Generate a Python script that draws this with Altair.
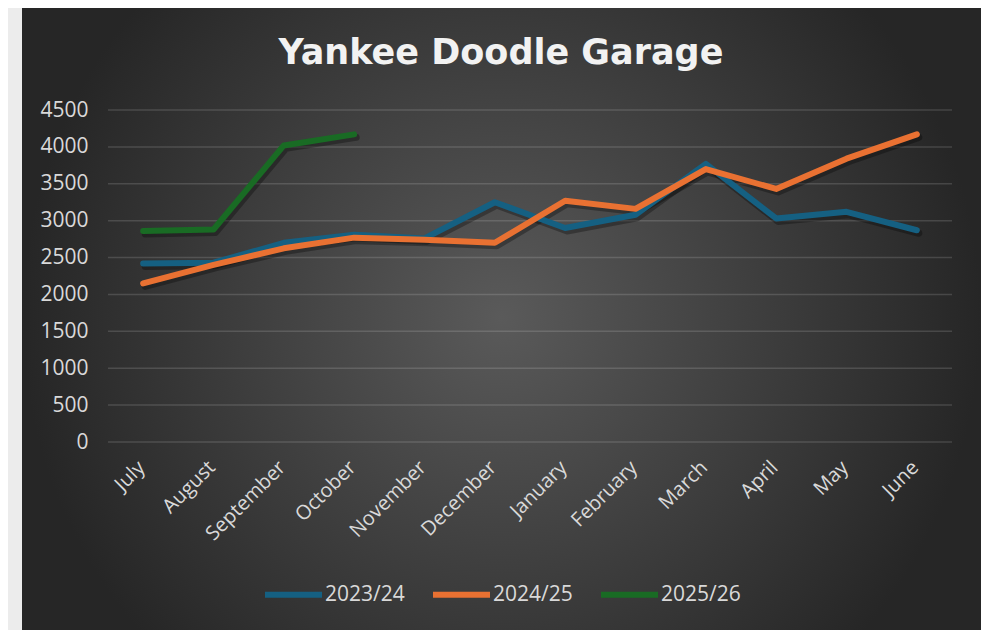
import altair as alt
import pandas as pd

months = ["July", "August", "September", "October", "November", "December",
          "January", "February", "March", "April", "May", "June"]
s2023 = [2420, 2430, 2700, 2810, 2760, 3250, 2900, 3080, 3770, 3030, 3120, 2870]
s2024 = [2150, 2400, 2625, 2770, 2740, 2700, 3270, 3160, 3700, 3430, 3840, 4170]
s2025 = [2860, 2880, 4020, 4170]
series_names = ["2023/24", "2024/25", "2025/26"]
series_colors = ["#156082", "#E97132", "#196B24"]
y_ticks = [0, 500, 1000, 1500, 2000, 2500, 3000, 3500, 4000, 4500]
title_text = "Yankee Doodle Garage"

rows = []
for name, vals in zip(series_names, [s2023, s2024, s2025]):
    for m, v in zip(months, vals):
        rows.append({"month": m, "value": v, "series": name})
df = pd.DataFrame(rows)
grid_df = pd.DataFrame({"value": y_ticks})

W, H = 844, 332

bg_grad = alt.Gradient(
    gradient="radial",
    stops=[alt.GradientStop(color="#5a5a5a", offset=0),
           alt.GradientStop(color="#262626", offset=1)],
    x1=0.5, y1=0.5, x2=0.5, y2=0.5, r1=0, r2=0.5,
)

bg = alt.Chart(pd.DataFrame({"k": [0]})).mark_rect(fill=bg_grad).encode(
    x=alt.value(-86), x2=alt.value(873), y=alt.value(-105), y2=alt.value(520)
)

xenc = alt.X("month:N", sort=months, title=None,
             axis=alt.Axis(labelAngle=-45, labelAlign="right", labelBaseline="top",
                           labelFontSize=20, labelColor="#d9d9d9", labelFont="Open Sans",
                           labelPadding=15, labelOffset=-9, ticks=False, domain=False,
                           grid=False, zindex=1))
yaxis = alt.Axis(values=y_ticks, format="d", labelFontSize=21, labelColor="#d9d9d9",
                 labelFont="Open Sans", labelPadding=20, ticks=False,
                 domain=False, grid=False, zindex=1)
yenc = alt.Y("value:Q", title=None,
             scale=alt.Scale(domain=[0, 4500], nice=False), axis=yaxis)

grid = alt.Chart(grid_df).mark_rule(color="#ffffff", opacity=0.14, strokeWidth=1.5).encode(
    y=yenc, x=alt.value(0), x2=alt.value(W)
)

base = alt.Chart(df)

shadow = base.mark_line(strokeWidth=7, color="black", opacity=0.3, xOffset=2, yOffset=3,
                        strokeCap="round", strokeJoin="round").encode(
    x=xenc, y=yenc, detail="series:N"
)

lines = base.mark_line(strokeWidth=6, strokeCap="round", strokeJoin="round").encode(
    x=xenc, y=yenc,
    color=alt.Color("series:N", sort=series_names,
                    scale=alt.Scale(domain=series_names, range=series_colors),
                    legend=alt.Legend(title=None, orient="none", legendX=154, legendY=453,
                                      direction="horizontal", symbolType="stroke",
                                      symbolStrokeWidth=6, symbolSize=3249,
                                      labelFontSize=21, labelColor="#d9d9d9",
                                      labelFont="Open Sans", labelOffset=0,
                                      columnPadding=16)),
)

tdf = pd.DataFrame({"t": [title_text]})
title = alt.Chart(tdf).mark_text(font="DejaVu Sans", fontWeight="bold", fontSize=35,
                                 color="#f2f2f2", align="center",
                                 baseline="alphabetic").encode(
    text="t:N", x=alt.value(393), y=alt.value(-46)
)

chart = alt.layer(bg, grid, shadow, lines, title).properties(
    width=W, height=H, autosize="none",
    padding={"left": 100, "top": 102, "right": 29, "bottom": 188},
    background="#ececec",
).configure_view(stroke=None)

chart.save("out.html", embed_options={"renderer": "svg", "actions": False})
